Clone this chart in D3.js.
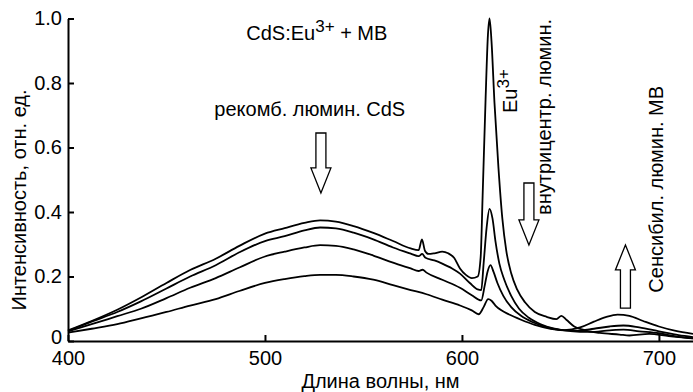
<!doctype html>
<html lang="ru">
  <head>
    <meta charset="utf-8">
    <title>CdS:Eu3+ + MB</title>
    <style>
        body { margin: 0; background: #fff; }
        svg { display: block; font-family: "Liberation Sans", Arial, sans-serif; }
        .curve { fill: none; stroke: #000; stroke-width: 1.8px; stroke-linejoin: round; }
        .axis path, .axis line { stroke: #000; stroke-width: 2px; }
        .axis text { font-size: 20px; fill: #000; font-family: "Liberation Sans", Arial, sans-serif; }
        .note { font-size: 20px; fill: #000; }
        .arrow { fill: #fff; stroke: #000; stroke-width: 1.3px; }
    </style>
  </head>
  <body>
    <svg width="693" height="392"></svg>

    <script src="https://cdn.jsdelivr.net/npm/d3@7"></script>
    <script>
        // spectra, [wavelength nm, intensity]
        var curveA = [[400,0.033],[412,0.062],[425,0.097],[437,0.135],[450,0.18],[462,0.22],[475,0.255],[487,0.295],
            [500,0.333],[510,0.35],[520,0.366],[528,0.374],[536,0.37],[545,0.356],[555,0.335],[565,0.31],[574,0.287],
            [578,0.282],[579.7,0.315],[581.2,0.28],[583,0.27],[586,0.272],[590,0.277],[593,0.272],[596,0.258],[599,0.225],
            [602,0.205],[605,0.195],[608,0.2],[609.5,0.26],[610.5,0.45],[612,0.75],[613.2,0.95],[614,1.0],[615,0.93],
            [616.5,0.74],[618.5,0.54],[620.5,0.38],[622.5,0.28],[625,0.21],[628,0.16],[632,0.12],[637,0.09],[643,0.075],
            [648,0.068],[650.5,0.078],[653,0.066],[657,0.045],[662,0.034],[670,0.025],[680,0.02],[685,0.017],[695,0.022],
            [705,0.015],[717.3,0.008]];
        var curveB = [[400,0.031],[412,0.06],[425,0.09],[437,0.123],[450,0.163],[462,0.2],[475,0.235],[487,0.275],
            [500,0.31],[510,0.325],[520,0.343],[528,0.352],[536,0.349],[545,0.336],[555,0.315],[565,0.29],[574,0.271],
            [578,0.263],[579.8,0.27],[581.5,0.258],[586,0.25],[590,0.24],[595,0.225],[599,0.209],[604,0.18],[608,0.16],
            [609.8,0.158],[611,0.24],[612.5,0.35],[614,0.41],[615.5,0.38],[617,0.31],[619,0.24],[621.5,0.19],[625,0.14],
            [629,0.1],[634,0.072],[640,0.052],[647,0.038],[655,0.031],[665,0.028],[675,0.033],[682,0.035],[690,0.03],
            [700,0.024],[710,0.013],[717.3,0.008]];
        var curveC = [[400,0.03],[412,0.052],[425,0.077],[437,0.1],[450,0.133],[462,0.165],[475,0.195],[487,0.228],
            [500,0.262],[510,0.277],[520,0.29],[528,0.297],[536,0.295],[545,0.284],[555,0.265],[565,0.243],[574,0.225],
            [578,0.217],[580,0.221],[582,0.212],[590,0.19],[599,0.165],[605,0.142],[609.8,0.126],[611.5,0.17],[613,0.215],
            [614.5,0.235],[616,0.215],[618,0.18],[621,0.14],[625,0.105],[630,0.078],[636,0.058],[643,0.043],[650,0.034],
            [658,0.032],[667,0.038],[675,0.045],[682,0.048],[690,0.042],[700,0.03],[710,0.018],[717.3,0.012]];
        var curveD = [[400,0.026],[412,0.038],[425,0.052],[437,0.07],[450,0.09],[462,0.11],[475,0.13],[487,0.155],
            [500,0.18],[510,0.192],[520,0.201],[528,0.205],[536,0.205],[545,0.2],[555,0.19],[565,0.173],[574,0.158],
            [582,0.145],[590,0.128],[599,0.11],[605,0.095],[608.5,0.083],[611,0.105],[613.3,0.13],[615,0.125],[617,0.11],
            [620,0.095],[624,0.082],[630,0.066],[637,0.05],[645,0.038],[652,0.034],[660,0.042],[667,0.06],[673,0.074],
            [679,0.082],[685,0.078],[692,0.062],[700,0.045],[708,0.032],[717.3,0.022]];

        var xTicks = [400, 500, 600, 700];
        var yTicks = [0, 0.2, 0.4, 0.6, 0.8, 1.0];

        // arrows: [wavelength, from, to] (tail -> tip)
        var arrows = [[528.4, 0.645, 0.459], [634, 0.49, 0.298], [683, 0.102, 0.298]];

        var svg = d3.select("svg");
        var x = d3.scaleLinear().domain([400, 717.3]).range([68, 693]);
        var y = d3.scaleLinear().domain([0, 1]).range([341, 18.5]);

        svg.append("g")
            .attr("class", "axis")
            .attr("transform", "translate(0,341)")
            .call(d3.axisBottom(x).tickValues(xTicks).tickSizeInner(-6).tickSizeOuter(0).tickPadding(10).tickFormat(d3.format("d")));

        svg.append("g")
            .attr("class", "axis")
            .attr("transform", "translate(68,0)")
            .call(d3.axisLeft(y).tickValues(yTicks).tickSizeInner(-6).tickSizeOuter(0).tickPadding(6)
                .tickFormat(d => d === 0 ? "0" : d3.format(".1f")(d)));

        // the "0" sits a bit above the axis, as in the original
        svg.selectAll(".axis text").filter(d => d === 0).attr("dy", "0.1em");

        var line = d3.line()
            .x(d => x(d[0]))
            .y(d => y(d[1]))
            .curve(d3.curveMonotoneX);

        svg.append("g")
            .selectAll("path")
            .data([curveD, curveC, curveB, curveA])
            .enter().append("path")
            .attr("class", "curve")
            .attr("d", line);

        // hollow block arrows
        svg.append("g")
            .selectAll("path")
            .data(arrows)
            .enter().append("path")
            .attr("class", "arrow")
            .attr("d", d => {
                var cx = x(d[0]), y0 = y(d[1]), y1 = y(d[2]);
                var dir = y1 > y0 ? 1 : -1, head = 25 * dir;
                return "M" + (cx - 5) + "," + y0 + "L" + (cx + 5) + "," + y0 +
                    "L" + (cx + 5) + "," + (y1 - head) + "L" + (cx + 10) + "," + (y1 - head) +
                    "L" + cx + "," + y1 + "L" + (cx - 10) + "," + (y1 - head) +
                    "L" + (cx - 5) + "," + (y1 - head) + "Z";
            });

        // labels
        var title = svg.append("text").attr("class", "note")
            .attr("x", x(490.5)).attr("y", y(0.933));
        title.append("tspan").text("CdS:Eu");
        title.append("tspan").attr("dy", -8).style("font-size", "17px").text("3+");
        title.append("tspan").attr("dy", 8).text(" + MB");

        svg.append("text").attr("class", "note")
            .attr("x", x(474.3)).attr("y", y(0.698))
            .text("рекомб. люмин. CdS");

        var eu = svg.append("text").attr("class", "note")
            .attr("transform", "translate(" + x(628) + "," + y(0.707) + ") rotate(-90)");
        eu.append("tspan").text("Eu");
        eu.append("tspan").attr("dy", -8).style("font-size", "17px").text("3+");

        svg.append("text").attr("class", "note")
            .attr("transform", "translate(" + x(645) + "," + y(0.391) + ") rotate(-90)")
            .text("внутрицентр. люмин.");

        svg.append("text").attr("class", "note")
            .attr("transform", "translate(" + x(702) + "," + y(0.15) + ") rotate(-90)")
            .text("Сенсибил. люмин. MB");

        svg.append("text").attr("class", "note")
            .attr("x", (68 + 693) / 2).attr("y", 388)
            .style("text-anchor", "middle")
            .text("Длина волны, нм");

        svg.append("text").attr("class", "note")
            .attr("transform", "translate(26,200) rotate(-90)")
            .style("text-anchor", "middle")
            .text("Интенсивность, отн. ед.");
    </script>
  </body>
</html>
